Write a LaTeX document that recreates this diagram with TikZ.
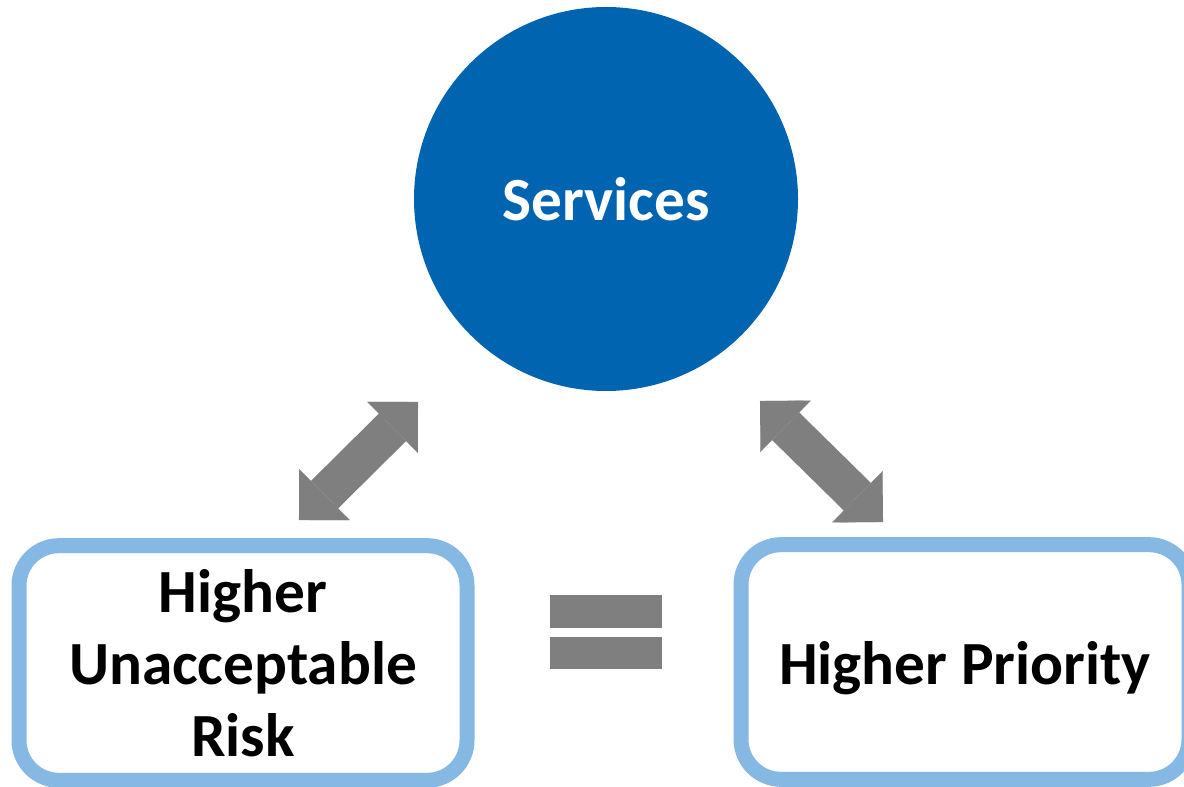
\documentclass[tikz,border=0pt]{standalone}
\usepackage{fontspec}
\setmainfont{Carlito}
\usetikzlibrary{arrows.meta}
\definecolor{svcblue}{HTML}{0064B1}
\definecolor{boxblue}{HTML}{85B9E3}
\definecolor{arrgray}{HTML}{7F7F7F}
\tikzset{
  px/.style={x=0.75pt,y=-0.75pt},
  riskbox/.style={draw=boxblue, fill=white, line width=11.25pt, rounded corners=30pt,
    minimum width=336pt, minimum height=176pt, inner sep=0pt,
    font=\fontsize{46}{54}\selectfont\bfseries, align=center, text=black},
  servcircle/.style={circle, fill=svcblue, minimum size=288pt, inner sep=0pt,
    font=\fontsize{46}{54}\selectfont\bfseries, text=white},
  dblarrow/.style={draw=arrgray, line width=29pt,
    {Triangle[width=54pt,length=27pt,line width=0.1pt,round]}-{Triangle[width=54pt,length=27pt,line width=0.1pt,round]}},
  eqbar/.style={fill=arrgray}
}
\begin{document}
\begin{tikzpicture}[px]
\useasboundingbox (0,0) rectangle (1184,787);
\node[servcircle, text height=33pt, text depth=0pt] (svc) at (606,199) {Services};
\node[riskbox] (risk) at (243,663) {Higher\\Unacceptable\\Risk};
\node[riskbox, text height=33pt, text depth=0pt] (prio) at (965,662) {Higher Priority};
\coordinate (la) at (299,520);
\coordinate (lb) at (418,402);
\coordinate (ra) at (760,401);
\coordinate (rb) at (883,522);
\draw[dblarrow] (la) -- (lb);
\draw[dblarrow] (ra) -- (rb);
\fill[eqbar] (550,595) rectangle (662,628);
\fill[eqbar] (550,637) rectangle (662,669);
\end{tikzpicture}
\end{document}
